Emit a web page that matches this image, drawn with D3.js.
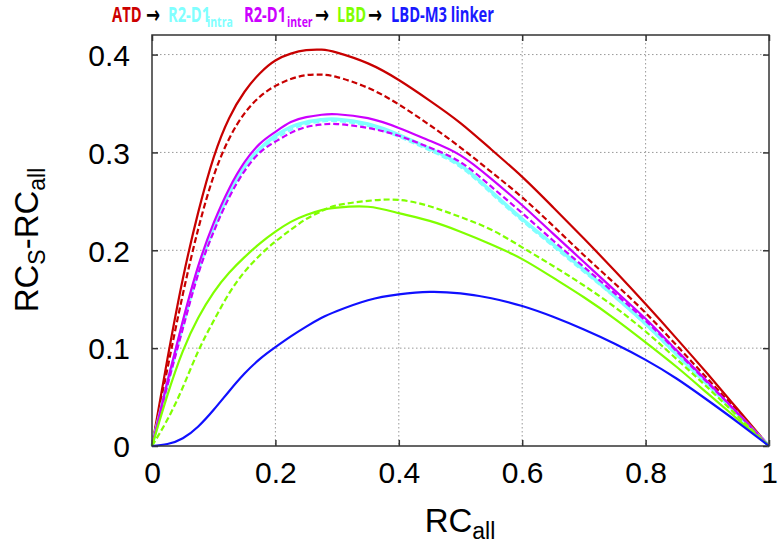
<!DOCTYPE html>
<html><head><meta charset="utf-8">
<script src="https://cdn.jsdelivr.net/npm/d3@7"></script>
<style>body{margin:0;background:#fff}svg{display:block}</style>
</head><body>
<svg id="c" width="780" height="549"></svg>
<script>
const xs = [0, 0.025, 0.05, 0.075, 0.1, 0.125, 0.15, 0.175, 0.2, 0.225, 0.25, 0.275, 0.3,
            0.35, 0.4, 0.45, 0.5, 0.55, 0.6, 0.65, 0.7, 0.75, 0.8, 0.85, 0.9, 0.95, 1];
const atdSolid    = [0, 0.089, 0.171, 0.239, 0.295, 0.335, 0.362, 0.381, 0.394, 0.401, 0.4045, 0.405, 0.402,
                     0.391, 0.374, 0.353, 0.330, 0.303, 0.275, 0.244, 0.212, 0.179, 0.145, 0.110, 0.074, 0.037, 0];
const atdDashed   = [0, 0.079, 0.155, 0.222, 0.276, 0.314, 0.340, 0.357, 0.368, 0.375, 0.379, 0.3795, 0.377,
                     0.366, 0.349, 0.328, 0.305, 0.280, 0.254, 0.225, 0.195, 0.166, 0.136, 0.103, 0.069, 0.035, 0];
const intraSolid  = [0, 0.064, 0.124, 0.180, 0.223, 0.258, 0.285, 0.304, 0.317, 0.326, 0.331, 0.3335, 0.334,
                     0.329, 0.318, 0.304, 0.287, 0.260, 0.232, 0.206, 0.180, 0.153, 0.125, 0.094, 0.063, 0.032, 0];
const intraDashed = [0, 0.063, 0.122, 0.177, 0.220, 0.255, 0.282, 0.301, 0.314, 0.323, 0.329, 0.3315, 0.332,
                     0.327, 0.316, 0.302, 0.285, 0.258, 0.230, 0.204, 0.178, 0.152, 0.124, 0.093, 0.062, 0.031, 0];
const interSolid  = [0, 0.066, 0.128, 0.184, 0.228, 0.263, 0.290, 0.309, 0.321, 0.331, 0.336, 0.3385, 0.339,
                     0.335, 0.325, 0.312, 0.297, 0.273, 0.246, 0.217, 0.188, 0.159, 0.130, 0.098, 0.066, 0.033, 0];
const interDashed = [0, 0.062, 0.120, 0.176, 0.219, 0.254, 0.281, 0.300, 0.311, 0.320, 0.326, 0.3285, 0.329,
                     0.325, 0.317, 0.305, 0.290, 0.265, 0.238, 0.210, 0.183, 0.156, 0.128, 0.097, 0.065, 0.033, 0];
const lbdSolid    = [0, 0.052, 0.097, 0.131, 0.157, 0.177, 0.193, 0.207, 0.219, 0.229, 0.236, 0.241, 0.2435,
                     0.2445, 0.238, 0.230, 0.219, 0.206, 0.191, 0.172, 0.152, 0.130, 0.106, 0.081, 0.054, 0.027, 0];
const lbdDashed   = [0, 0.027, 0.060, 0.097, 0.128, 0.156, 0.178, 0.195, 0.209, 0.221, 0.232, 0.240, 0.246,
                     0.2505, 0.2515, 0.245, 0.234, 0.221, 0.203, 0.184, 0.164, 0.142, 0.117, 0.089, 0.060, 0.030, 0];
const linkerSolid = [0, 0.002, 0.008, 0.020, 0.037, 0.056, 0.074, 0.089, 0.101, 0.112, 0.122, 0.131, 0.138,
                     0.149, 0.155, 0.1575, 0.156, 0.151, 0.143, 0.132, 0.119, 0.1045, 0.088, 0.069, 0.047, 0.024, 0];

const xTicks = [0, 0.2, 0.4, 0.6, 0.8, 1];
const xTickLabels = ["0", "0.2", "0.4", "0.6", "0.8", "1"];
const yTicks = [0, 0.1, 0.2, 0.3, 0.4];
const yTickLabels = ["0", "0.1", "0.2", "0.3", "0.4"];

const series = [
  {v: atdSolid,    c: "#c80000", d: null},
  {v: atdDashed,   c: "#c80000", d: "6,3"},
  {v: intraSolid,  c: "#80ffff", d: null, w: 3.5},
  {v: intraDashed, c: "#80ffff", d: "6,3"},
  {v: interSolid,  c: "#cc00ff", d: null},
  {v: interDashed, c: "#cc00ff", d: "6,3"},
  {v: lbdSolid,    c: "#80ff00", d: null},
  {v: lbdDashed,   c: "#80ff00", d: "6,3"},
  {v: linkerSolid, c: "#1010ff", d: null}
];

const L = 152, R = 769, T = 35, B = 446;
const svg = d3.select("#c");
const x = d3.scaleLinear().domain([0, 1]).range([L, R]);
const y = d3.scaleLinear().domain([0, 0.42]).range([B, T]);

// grid
const grid = svg.append("g").attr("stroke", "#999").attr("stroke-width", 1).attr("stroke-dasharray", "1.5,2.5");
xTicks.slice(1, -1).forEach(t => grid.append("line").attr("x1", x(t)).attr("x2", x(t)).attr("y1", T).attr("y2", B));
yTicks.slice(1).forEach(t => grid.append("line").attr("x1", L).attr("x2", R).attr("y1", y(t)).attr("y2", y(t)));

// axes
const fs = "Liberation Sans, Arial, sans-serif";
const ax = svg.append("g").attr("transform", `translate(0,${B})`)
  .call(d3.axisBottom(x).tickValues(xTicks).tickFormat((d, i) => xTickLabels[i]).tickSizeInner(-6).tickSizeOuter(0).tickPadding(16));
const ay = svg.append("g").attr("transform", `translate(${L},0)`)
  .call(d3.axisLeft(y).tickValues(yTicks).tickFormat((d, i) => yTickLabels[i]).tickSizeInner(-6).tickSizeOuter(0).tickPadding(22));
const axT = svg.append("g").attr("transform", `translate(0,${T})`)
  .call(d3.axisTop(x).tickValues(xTicks).tickFormat("").tickSizeInner(-6).tickSizeOuter(0));
const ayR = svg.append("g").attr("transform", `translate(${R},0)`)
  .call(d3.axisRight(y).tickValues(yTicks).tickFormat("").tickSizeInner(-6).tickSizeOuter(0));
[ax, ay, axT, ayR].forEach(g => {
  g.select(".domain").remove();
  g.selectAll(".tick line").attr("stroke", "#333").attr("stroke-width", 1.5);
  g.selectAll("text").attr("font-family", fs).attr("font-size", 30).attr("fill", "#000");
});
ay.selectAll("text").attr("dy", "0.36em");
ax.selectAll("text").attr("dy", "0.71em");

// lines
const line = d3.line().x((d, i) => x(xs[i])).y(d => y(d)).curve(d3.curveNatural);
const lg = svg.append("g");
series.forEach(s => {
  lg.append("path").attr("d", line(s.v)).attr("fill", "none").attr("stroke", s.c)
    .attr("stroke-width", s.w || 2.2).attr("stroke-dasharray", s.d);
});

// frame
svg.append("rect").attr("x", L).attr("y", T).attr("width", R - L).attr("height", B - T)
  .attr("fill", "none").attr("stroke", "#333").attr("stroke-width", 1.5);

// axis titles
const xt = svg.append("text").attr("x", 460).attr("y", 532).attr("text-anchor", "middle")
  .attr("font-family", fs).attr("font-size", 33);
xt.append("tspan").text("RC");
xt.append("tspan").attr("font-size", 23).attr("dy", 7).text("all");

const yt = svg.append("text").attr("transform", "translate(38,240) rotate(-90)").attr("text-anchor", "middle")
  .attr("font-family", fs).attr("font-size", 33);
yt.append("tspan").text("RC");
yt.append("tspan").attr("font-size", 23).attr("dy", 7).text("S");
yt.append("tspan").attr("dy", -7).text("-RC");
yt.append("tspan").attr("font-size", 23).attr("dy", 7).text("all");

// title: one text, condensed horizontally
const titleParts = [
  {t: "ATD",           c: "#cc0000", x0: 112},
  {t: "\u2192",        c: "#000",    x0: 146, arrow: true},
  {t: "R2-D1",         c: "#80ffff", x0: 168},
  {t: "intra",         c: "#80ffff", x0: 207, sub: true},
  {t: "R2-D1",         c: "#cc00ff", x0: 244},
  {t: "inter",         c: "#cc00ff", x0: 287, sub: true},
  {t: "\u2192",        c: "#000",    x0: 315, arrow: true},
  {t: "LBD",           c: "#80ff00", x0: 337},
  {t: "\u2192",        c: "#000",    x0: 368, arrow: true},
  {t: "LBD-M3 linker", c: "#1a1aff", x0: 391}
];
const tg = svg.append("g");
const tt = tg.append("text").attr("font-family", "Open Sans, sans-serif").attr("font-weight", "bold").attr("font-size", 21);
const spans = titleParts.map(p => {
  const sp = tt.append("tspan").attr("fill", p.c).attr("y", p.sub ? 27 : (p.arrow ? 23 : 22)).attr("x", 0).text(p.t);
  if (p.sub) sp.attr("font-size", 15);
  if (p.arrow) sp.attr("font-family", "DejaVu Sans, sans-serif").attr("font-size", 24);
  return sp;
});
const lastW = spans[spans.length - 1].node().getComputedTextLength();
const s = (494 - 391) / lastW;
spans.forEach((sp, i) => sp.attr("x", (titleParts[i].x0 - 112) / s));
tg.attr("transform", `translate(112,0) scale(${s},1)`);
</script>
</body></html>
